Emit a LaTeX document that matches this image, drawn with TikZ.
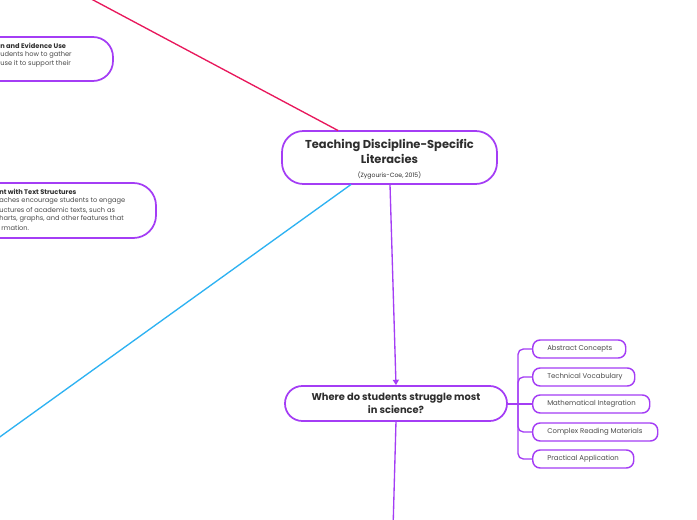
\documentclass[tikz,border=0pt]{standalone}
\usepackage{fontspec}
\setmainfont{Poppins}
\usetikzlibrary{arrows.meta}
\definecolor{mpurple}{HTML}{A43DF5}
\definecolor{mred}{HTML}{E8185C}
\definecolor{mblue}{HTML}{2DB2F2}
\definecolor{mtext}{HTML}{2E2E2E}
\definecolor{mgray}{HTML}{4A4A4A}
\tikzset{
  box/.style={draw=mpurple, line width=1.3pt, fill=white, inner sep=0pt},
  child/.style={box, line width=1.1pt, rounded corners=5.5pt, minimum height=13.5pt, anchor=west},
  childtxt/.style={anchor=west, inner sep=0pt, font=\fontsize{5.2}{6}\selectfont, text=mgray},
  lefttxt/.style={anchor=west, inner sep=0pt, font=\fontsize{5}{6}\selectfont, text=mgray},
  leftbold/.style={anchor=west, inner sep=0pt, font=\fontsize{5}{6}\selectfont\bfseries, text=mtext},
  link/.style={line width=1pt, draw=mpurple},
}
\begin{document}
\begin{tikzpicture}[x=0.75pt,y=-0.75pt]
\useasboundingbox[fill=white] (0,0) rectangle (697,520);
% connectors to off-page nodes
\coordinate (redend) at (80,-7);
\coordinate (blueend) at (-10,444);
\coordinate (downend) at (393,530);
% left nodes (partly off page)
\node[box, rounded corners=15pt, minimum width=193*0.75pt, minimum height=44*0.75pt] (lb1) at (16.5,59) {};
\node[leftbold] (l1a) at (0,45.5) {n and Evidence Use};
\node[lefttxt] (l1b) at (0,54.5) {udents how to gather};
\node[lefttxt] (l1c) at (0,63.5) {use it to support their};
\node[box, rounded corners=17pt, minimum width=236*0.75pt, minimum height=55*0.75pt] (lb2) at (38,210.5) {};
\node[leftbold] (l2a) at (-1,192) {nt with Text Structures};
\node[lefttxt] (l2b) at (-1,201) {aches encourage students to engage};
\node[lefttxt] (l2c) at (-1,210) {uctures of academic texts, such as};
\node[lefttxt] (l2d) at (-1,219) {harts, graphs, and other features that};
\node[lefttxt] (l2e) at (1,228) {rmation.};
% central node
\node[box, rounded corners=16pt, minimum width=215*0.75pt, minimum height=53*0.75pt] (c) at (389.5,157.5) {};
\node[inner sep=0pt, font=\fontsize{8.6}{11}\selectfont\bfseries, text=mtext, align=center] (ct) at (389.5,151.5) {Teaching Discipline-Specific\\Literacies};
\node[inner sep=0pt, font=\fontsize{4.6}{6}\selectfont, text=mtext] (cs) at (389.5,175) {(Zygouris-Coe, 2015)};
% where node
\node[box, rounded corners=13pt, minimum width=222*0.75pt, minimum height=35*0.75pt] (w) at (396,403.5) {};
\node[inner sep=0pt, font=\fontsize{7.4}{9.6}\selectfont\bfseries, text=mtext, align=center] (wt) at (396,403.5) {Where do students struggle most\\in science?};
% connectors
\draw[line width=1pt, mred] (redend) -- (338,130.5) coordinate (ctop);
\draw[line width=1pt, mblue] (351,184.5) coordinate (cbot) -- (blueend);
\draw[link, -{Triangle[width=4.5pt,length=4pt,fill=mpurple]}] (390,184.5) -- (w.north);
\draw[link] (396,421) -- (downend);
% children
\node[child, minimum width=93*0.75pt] (k1) at (532,349) {};
\node[child, minimum width=102*0.75pt] (k2) at (532,377) {};
\node[child, minimum width=117*0.75pt] (k3) at (532,404) {};
\node[child, minimum width=125*0.75pt] (k4) at (532,432) {};
\node[child, minimum width=101*0.75pt] (k5) at (532,459) {};
\node[childtxt] (t1) at (547,349) {Abstract Concepts};
\node[childtxt] (t2) at (547,377) {Technical Vocabulary};
\node[childtxt] (t3) at (547,404) {Mathematical Integration};
\node[childtxt] (t4) at (547,432) {Complex Reading Materials};
\node[childtxt] (t5) at (547,459) {Practical Application};
\coordinate (hub) at (518,404);
\draw[link] (w.east |- hub) -- (k3.west);
\foreach \k in {k1,k2,k4,k5}{
  \draw[link, rounded corners=4pt] (hub) |- (\k.west);
}
\end{tikzpicture}
\end{document}
